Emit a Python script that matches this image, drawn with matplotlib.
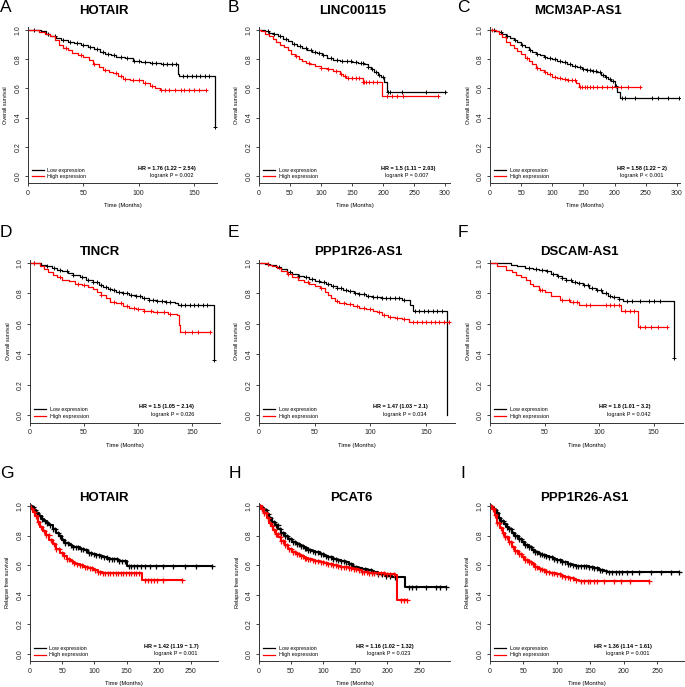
import numpy as np
import matplotlib
matplotlib.use("Agg")
import matplotlib.pyplot as plt

plt.rcParams['font.family'] = ['Liberation Sans', 'DejaVu Sans']

# ---------------- data ----------------
genes = ["HOTAIR", "LINC00115", "MCM3AP-AS1", "TINCR", "PPP1R26-AS1", "DSCAM-AS1",
         "HOTAIR", "PCAT6", "PPP1R26-AS1"]
letters = ["A", "B", "C", "D", "E", "F", "G", "H", "I"]
ylabels = ["Overall survival"] * 6 + ["Relapse free survival"] * 3
hr_text = ["HR = 1.76 (1.22 \u2212 2.54)", "HR = 1.5 (1.11 \u2212 2.03)", "HR = 1.58 (1.22 \u2212 2)",
           "HR = 1.5 (1.05 \u2212 2.14)", "HR = 1.47 (1.03 \u2212 2.1)", "HR = 1.8 (1.01 \u2212 3.2)",
           "HR = 1.42 (1.19 \u2212 1.7)", "HR = 1.16 (1.02 \u2212 1.32)", "HR = 1.36 (1.14 \u2212 1.61)"]
p_text = ["logrank P = 0.002", "logrank P = 0.007", "logrank P < 0.001",
          "logrank P = 0.026", "logrank P = 0.034", "logrank P = 0.042",
          "logrank P = 0.001", "logrank P = 0.023", "logrank P = 0.001"]
x_ticks = [[0, 50, 100, 150], [0, 50, 100, 150, 200, 250, 300], [0, 50, 100, 150, 200, 250, 300],
           [0, 50, 100, 150], [0, 50, 100, 150], [0, 50, 100, 150],
           [0, 50, 100, 150, 200, 250], [0, 50, 100, 150, 200, 250], [0, 50, 100, 150, 200, 250]]
x_max = [171, 308, 305, 176, 176, 177, 292, 298, 290]

# each curve: step times, survival after each step, last follow-up, censor times
a_low_t = [0, 12, 16, 20, 25, 30, 36, 42, 48, 54, 60, 65, 70, 75, 80, 88, 95, 102, 110, 120, 130, 136, 137, 169]
a_low_s = [1.0, 0.99, 0.975, 0.96, 0.945, 0.93, 0.92, 0.91, 0.898, 0.885, 0.87, 0.85, 0.835, 0.825, 0.815,
           0.805, 0.787, 0.78, 0.775, 0.77, 0.767, 0.70, 0.684, 0.336]
a_low_end = 169
a_low_c = [5, 18, 24, 32, 38, 44, 50, 56, 62, 68, 72, 78, 84, 90, 96, 100, 106, 112, 116, 122, 126, 130,
           134, 140, 144, 148, 152, 156, 160, 164, 169]
a_high_t = [0, 10, 15, 20, 24, 28, 32, 36, 40, 45, 50, 55, 59, 64, 68, 73, 77, 81, 86, 92, 98, 104, 110, 115, 119]
a_high_s = [1.0, 0.985, 0.975, 0.96, 0.93, 0.90, 0.875, 0.86, 0.845, 0.83, 0.815, 0.795, 0.765, 0.745, 0.725,
            0.715, 0.705, 0.685, 0.665, 0.66, 0.655, 0.64, 0.615, 0.60, 0.588]
a_high_end = 161
a_high_c = [34, 48, 60, 70, 80, 84, 88, 95, 100, 106, 112, 120, 124, 128, 133, 138, 141, 146, 150, 155, 161]

b_low_t = [0, 10, 16, 22, 30, 38, 46, 54, 62, 70, 78, 86, 94, 101, 110, 120, 130, 140, 150, 160, 170, 175,
           180, 186, 192, 197, 202, 206]
b_low_s = [1.0, 0.99, 0.98, 0.97, 0.955, 0.94, 0.925, 0.905, 0.89, 0.875, 0.86, 0.85, 0.84, 0.828, 0.808,
           0.795, 0.79, 0.785, 0.78, 0.775, 0.77, 0.745, 0.73, 0.71, 0.69, 0.675, 0.645, 0.577]
b_low_end = 301
b_low_c = [14, 24, 34, 44, 56, 66, 76, 84, 90, 96, 104, 116, 126, 134, 142, 148, 156, 164, 168, 176, 182,
           188, 194, 200, 208, 212, 230, 270, 300]
b_high_t = [0, 4, 10, 16, 22, 28, 34, 40, 46, 52, 58, 64, 70, 76, 82, 90, 100, 110, 120, 130, 135, 140, 168, 198]
b_high_s = [1.0, 0.99, 0.975, 0.955, 0.935, 0.915, 0.895, 0.88, 0.86, 0.835, 0.82, 0.80, 0.785, 0.775, 0.765,
            0.755, 0.74, 0.73, 0.72, 0.70, 0.685, 0.67, 0.645, 0.545]
b_high_end = 288
b_high_c = [60, 80, 100, 112, 124, 132, 138, 144, 150, 156, 162, 168, 170, 172, 178, 184, 190, 206, 214,
            222, 232, 288]

c_low_t = [0, 8, 14, 20, 26, 32, 38, 44, 50, 56, 62, 68, 74, 80, 86, 92, 100, 108, 116, 124, 132, 140, 148,
           156, 164, 172, 178, 184, 190, 195, 200, 204, 208]
c_low_s = [1.0, 0.995, 0.985, 0.975, 0.96, 0.945, 0.93, 0.915, 0.9, 0.885, 0.865, 0.85, 0.835, 0.825, 0.815,
           0.805, 0.80, 0.79, 0.78, 0.77, 0.755, 0.745, 0.735, 0.725, 0.72, 0.71, 0.69, 0.675, 0.665, 0.65,
           0.615, 0.577, 0.531]
c_low_end = 303
c_low_c = [6, 18, 28, 40, 52, 64, 76, 88, 96, 104, 112, 120, 128, 136, 144, 150, 156, 160, 166, 170, 176,
           182, 186, 192, 198, 202, 212, 216, 232, 260, 270, 285, 303]
c_high_t = [0, 9, 14, 20, 26, 32, 38, 44, 50, 56, 62, 68, 74, 80, 86, 92, 100, 108, 116, 124, 132, 138, 143]
c_high_s = [1.0, 0.99, 0.975, 0.95, 0.92, 0.895, 0.875, 0.855, 0.835, 0.81, 0.79, 0.765, 0.74, 0.725, 0.715,
            0.70, 0.68, 0.67, 0.665, 0.66, 0.655, 0.64, 0.611]
c_high_end = 240
c_high_c = [3, 60, 76, 88, 96, 104, 112, 120, 126, 132, 136, 144, 148, 152, 156, 160, 166, 172, 180, 188,
            196, 210, 222, 240]

d_low_t = [0, 10, 15, 20, 25, 30, 35, 40, 46, 52, 58, 64, 68, 72, 76, 80, 86, 92, 98, 104, 110, 118, 126,
           134, 137, 170]
d_low_s = [1.0, 0.99, 0.98, 0.965, 0.955, 0.945, 0.935, 0.923, 0.91, 0.89, 0.875, 0.855, 0.84, 0.83, 0.82,
           0.81, 0.80, 0.79, 0.78, 0.77, 0.76, 0.75, 0.745, 0.735, 0.725, 0.363]
d_low_end = 170
d_low_c = [4, 16, 22, 28, 34, 40, 48, 54, 58, 62, 66, 70, 74, 78, 82, 86, 90, 94, 98, 102, 106, 110, 114,
           118, 122, 126, 130, 140, 144, 148, 152, 156, 160, 164, 170]
d_high_t = [0, 9, 13, 17, 21, 25, 30, 36, 42, 48, 54, 58, 62, 66, 70, 74, 80, 86, 92, 98, 106, 114, 122,
            128, 136, 138, 139]
d_high_s = [1.0, 0.98, 0.96, 0.94, 0.92, 0.905, 0.89, 0.88, 0.865, 0.855, 0.84, 0.83, 0.81, 0.79, 0.77,
            0.745, 0.735, 0.72, 0.705, 0.695, 0.685, 0.68, 0.675, 0.665, 0.66, 0.595, 0.549]
d_high_end = 167
d_high_c = [4, 28, 44, 50, 66, 78, 84, 90, 96, 100, 106, 112, 118, 124, 130, 144, 150, 156, 167]

e_low_t = [0, 5, 10, 15, 20, 25, 30, 35, 40, 45, 50, 55, 60, 65, 70, 75, 80, 85, 90, 96, 102, 110, 120,
           128, 134, 136, 138, 169]
e_low_s = [1.0, 0.995, 0.985, 0.975, 0.96, 0.94, 0.925, 0.915, 0.905, 0.895, 0.885, 0.875, 0.865, 0.85,
           0.835, 0.825, 0.815, 0.805, 0.795, 0.785, 0.775, 0.772, 0.768, 0.76, 0.755, 0.725, 0.687, 0.0]
e_low_end = 169
e_low_c = [8, 18, 28, 36, 42, 48, 54, 58, 62, 66, 70, 74, 78, 82, 86, 90, 94, 98, 102, 106, 110, 114, 118,
           122, 126, 130, 140, 144, 148, 152, 156, 160, 164]
e_high_t = [0, 8, 12, 16, 20, 25, 30, 35, 40, 45, 50, 55, 59, 62, 65, 68, 72, 78, 84, 90, 96, 102, 106,
            110, 116, 122, 128, 135]
e_high_s = [1.0, 0.99, 0.98, 0.965, 0.945, 0.925, 0.905, 0.89, 0.875, 0.86, 0.85, 0.835, 0.81, 0.79, 0.77,
            0.75, 0.74, 0.73, 0.72, 0.705, 0.695, 0.685, 0.675, 0.655, 0.645, 0.64, 0.63, 0.61]
e_high_end = 171
e_high_c = [26, 44, 56, 70, 76, 82, 88, 94, 100, 108, 112, 118, 124, 130, 138, 142, 146, 150, 154, 158,
            162, 166, 171]

f_low_t = [0, 19, 25, 32, 39, 45, 51, 56, 61, 66, 70, 75, 80, 85, 91, 97, 103, 108, 112, 118, 122, 169]
f_low_s = [1.0, 0.985, 0.978, 0.97, 0.963, 0.955, 0.945, 0.93, 0.912, 0.9, 0.888, 0.878, 0.868, 0.855,
           0.835, 0.82, 0.802, 0.785, 0.775, 0.765, 0.752, 0.374]
f_low_end = 169
f_low_c = [36, 42, 48, 52, 58, 62, 66, 70, 74, 78, 82, 86, 90, 94, 98, 102, 106, 110, 114, 118, 126, 130,
           138, 146, 150, 156, 169]
f_high_t = [0, 6, 15, 20, 24, 28, 33, 37, 39, 45, 50, 56, 64, 73, 82, 120, 136]
f_high_s = [1.0, 0.978, 0.956, 0.94, 0.923, 0.905, 0.89, 0.86, 0.846, 0.824, 0.81, 0.78, 0.758, 0.741,
            0.721, 0.686, 0.582]
f_high_end = 162
f_high_c = [46, 48, 66, 72, 76, 80, 88, 92, 106, 110, 114, 118, 124, 128, 132, 138, 142, 148, 154, 162]

g_low_t = [0, 3, 6, 10, 14, 18, 22, 26, 30, 35, 40, 45, 50, 55, 60, 66, 72, 78, 84, 90, 96, 102, 108, 114,
           120, 128, 136, 144, 150]
g_low_s = [1.0, 0.99, 0.975, 0.955, 0.935, 0.915, 0.9, 0.885, 0.87, 0.845, 0.82, 0.795, 0.77, 0.75, 0.735,
           0.725, 0.72, 0.71, 0.70, 0.685, 0.675, 0.67, 0.665, 0.655, 0.645, 0.64, 0.63, 0.625, 0.596]
g_low_end = 283
g_low_c = [2, 5, 8, 11, 15, 19, 23, 27, 31, 35, 39, 43, 47, 51, 55, 59, 63, 67, 71, 75, 79, 83, 87, 91, 95,
           99, 103, 107, 111, 115, 119, 123, 127, 131, 135, 139, 143, 148, 153, 157, 161, 166, 172, 178,
           186, 195, 207, 222, 240, 258, 283]
g_high_t = [0, 2, 5, 8, 12, 16, 20, 25, 30, 35, 41, 47, 53, 57, 62, 67, 72, 77, 83, 90, 98, 105, 112, 119, 174]
g_high_s = [1.0, 0.982, 0.96, 0.93, 0.892, 0.86, 0.83, 0.802, 0.77, 0.74, 0.712, 0.685, 0.66, 0.645, 0.63,
            0.618, 0.608, 0.60, 0.59, 0.578, 0.566, 0.557, 0.55, 0.544, 0.499]
g_high_end = 236
g_high_c = [3, 6, 9, 13, 17, 21, 25, 29, 33, 37, 41, 45, 49, 53, 57, 61, 65, 69, 73, 77, 81, 85, 89, 93,
            97, 101, 105, 109, 113, 117, 121, 125, 129, 133, 137, 141, 145, 149, 153, 157, 161, 165, 169,
            178, 183, 188, 193, 198, 206, 236]

h_low_t = [0, 4, 8, 12, 16, 20, 25, 30, 35, 40, 46, 52, 58, 64, 70, 76, 82, 88, 95, 102, 108, 115, 122,
           128, 134, 140, 147, 154, 160, 168, 176, 186, 196, 207, 228]
h_low_s = [1.0, 0.989, 0.97, 0.945, 0.92, 0.895, 0.87, 0.843, 0.82, 0.8, 0.776, 0.758, 0.742, 0.728, 0.715,
           0.705, 0.695, 0.687, 0.676, 0.665, 0.653, 0.643, 0.632, 0.625, 0.62, 0.605, 0.59, 0.58, 0.575,
           0.565, 0.555, 0.541, 0.53, 0.519, 0.452]
h_low_end = 291
h_low_c = [2, 5, 8, 11, 14, 17, 20, 23, 26, 29, 32, 35, 38, 41, 44, 47, 50, 53, 56, 59, 62, 65, 68, 71, 74,
           77, 80, 84, 88, 92, 96, 100, 104, 108, 112, 116, 120, 124, 128, 132, 136, 140, 144, 148, 152,
           156, 160, 165, 170, 175, 180, 186, 192, 198, 204, 212, 234, 238, 245, 260, 276, 282, 291]
h_high_t = [0, 4, 8, 12, 15, 18, 22, 26, 30, 35, 40, 46, 52, 58, 64, 70, 76, 82, 88, 95, 102, 108, 115,
            122, 128, 134, 140, 147, 154, 160, 170, 180, 197, 212, 216]
h_high_s = [1.0, 0.98, 0.955, 0.92, 0.888, 0.865, 0.835, 0.81, 0.787, 0.76, 0.735, 0.709, 0.69, 0.675,
            0.66, 0.65, 0.643, 0.636, 0.631, 0.622, 0.615, 0.608, 0.602, 0.596, 0.59, 0.586, 0.58, 0.572,
            0.565, 0.553, 0.548, 0.545, 0.541, 0.537, 0.362]
h_high_end = 231
h_high_c = [2, 5, 8, 11, 14, 17, 20, 23, 26, 29, 32, 35, 38, 41, 44, 47, 50, 53, 56, 59, 62, 65, 68, 71,
            74, 77, 80, 84, 88, 92, 96, 100, 104, 108, 112, 116, 120, 124, 128, 132, 136, 140, 144, 148,
            152, 156, 160, 164, 168, 172, 176, 180, 185, 190, 195, 200, 205, 210, 221, 226, 231]

i_low_t = [0, 3, 6, 10, 13, 17, 21, 25, 28, 33, 38, 43, 48, 53, 58, 63, 68, 73, 78, 83, 88, 94, 100, 108,
           116, 122, 128, 138, 148, 156, 163, 170, 175]
i_low_s = [1.0, 0.989, 0.975, 0.95, 0.922, 0.9, 0.878, 0.858, 0.843, 0.82, 0.795, 0.775, 0.754, 0.735,
           0.72, 0.705, 0.687, 0.678, 0.67, 0.66, 0.653, 0.645, 0.635, 0.62, 0.61, 0.603, 0.597, 0.592,
           0.586, 0.578, 0.57, 0.56, 0.553]
i_low_end = 282
i_low_c = [2, 5, 8, 11, 14, 17, 20, 23, 26, 29, 32, 35, 38, 41, 44, 47, 50, 53, 56, 59, 62, 65, 68, 71, 74,
           77, 80, 84, 88, 92, 96, 100, 104, 108, 112, 116, 120, 124, 128, 132, 136, 140, 144, 148, 152,
           156, 160, 164, 168, 173, 178, 183, 188, 193, 198, 205, 212, 222, 240, 256, 270, 282]
i_high_t = [0, 3, 7, 11, 15, 19, 23, 28, 33, 38, 43, 48, 53, 58, 63, 68, 73, 78, 84, 90, 98, 106, 112,
            118, 125, 133]
i_high_s = [1.0, 0.98, 0.94, 0.888, 0.85, 0.815, 0.787, 0.755, 0.725, 0.698, 0.675, 0.655, 0.637, 0.62,
            0.605, 0.59, 0.575, 0.565, 0.555, 0.548, 0.541, 0.53, 0.522, 0.512, 0.503, 0.49]
i_high_end = 238
i_high_c = [2, 5, 8, 11, 14, 17, 20, 23, 26, 29, 32, 35, 38, 41, 44, 47, 50, 53, 56, 59, 62, 65, 68, 71,
            74, 77, 80, 84, 88, 92, 96, 100, 104, 108, 112, 116, 120, 124, 128, 136, 140, 146, 150, 156,
            160, 170, 185, 196, 210, 238]

low_curves = [(a_low_t, a_low_s, a_low_end, a_low_c), (b_low_t, b_low_s, b_low_end, b_low_c),
              (c_low_t, c_low_s, c_low_end, c_low_c), (d_low_t, d_low_s, d_low_end, d_low_c),
              (e_low_t, e_low_s, e_low_end, e_low_c), (f_low_t, f_low_s, f_low_end, f_low_c),
              (g_low_t, g_low_s, g_low_end, g_low_c), (h_low_t, h_low_s, h_low_end, h_low_c),
              (i_low_t, i_low_s, i_low_end, i_low_c)]
high_curves = [(a_high_t, a_high_s, a_high_end, a_high_c), (b_high_t, b_high_s, b_high_end, b_high_c),
               (c_high_t, c_high_s, c_high_end, c_high_c), (d_high_t, d_high_s, d_high_end, d_high_c),
               (e_high_t, e_high_s, e_high_end, e_high_c), (f_high_t, f_high_s, f_high_end, f_high_c),
               (g_high_t, g_high_s, g_high_end, g_high_c), (h_high_t, h_high_s, h_high_end, h_high_c),
               (i_high_t, i_high_s, i_high_end, i_high_c)]

# ---------------- layout (pixels in a 685x687 canvas) ----------------
W, H = 685, 687
ax_left = [28, 259, 490, 30, 259, 490, 30, 259, 490]
ax_right = [217, 450, 680, 220, 455, 683, 218, 450, 684]
row_top = [27, 260, 503]
row_bot = [183.3, 422.6, 661.4]
title_xy = [(104, 11), (353, 11), (578, 11), (100, 252), (358, 252), (579, 252),
            (104, 498), (351, 498), (584, 498)]
letter_xy = [(0, 7), (228, 7), (457, 7), (0, 232), (228, 232), (458, 232), (0, 474), (229, 474), (460, 474)]
hr_pos = [(0.735, 0.76), (0.78, 0.775), (0.80, 0.80), (0.72, 0.75), (0.72, 0.745), (0.70, 0.72),
          (0.75, 0.775), (0.66, 0.68), (0.685, 0.71)]


def km_curve(ax, t, s, end, cens, color, lw, ms, mew):
    xs = list(t) + [end]
    ys = list(s) + [s[-1]]
    line, = ax.step(xs, ys, where='post', color=color, lw=lw)
    idx = np.searchsorted(t, cens, side='right') - 1
    ax.plot(cens, np.asarray(s)[idx], ls='none', marker='+', color=color, ms=ms, mew=mew)
    return line


fig = plt.figure(figsize=(W / 100, H / 100), dpi=100)

for k in range(9):
    r = k // 3
    left, right = ax_left[k], ax_right[k]
    top, bot = row_top[r], row_bot[r]
    ax = fig.add_axes([left / W, 1 - bot / H, (right - left) / W, (bot - top) / H])
    wpx, hpx = right - left, bot - top

    dense = k >= 6
    lw = 1.5 if dense else 0.9
    ms = 3.6 if dense else 3.4
    mew = 0.9 if dense else 0.7
    l1 = km_curve(ax, *low_curves[k], color='black', lw=lw, ms=ms, mew=mew)
    l2 = km_curve(ax, *high_curves[k], color='#ff0000', lw=lw, ms=ms, mew=mew)

    ax.set_xlim(0, x_max[k])
    ax.set_ylim(-0.05, 1.02)
    ax.set_xticks(x_ticks[k])
    ax.set_yticks([0.0, 0.2, 0.4, 0.6, 0.8, 1.0])
    ax.set_yticklabels(["0.0", "0.2", "0.4", "0.6", "0.8", "1.0"])
    for side in ['top', 'right']:
        ax.spines[side].set_visible(False)
    for side in ['left', 'bottom']:
        ax.spines[side].set_linewidth(0.7)
        ax.spines[side].set_color('#333333')
    ax.tick_params(length=2.5, width=0.6, pad=2, labelsize=5, colors='#222222')
    ax.tick_params(axis='y', labelrotation=90)
    for lab in ax.get_yticklabels():
        lab.set_va('center')

    ax.set_xlabel("Time (Months)", fontsize=4.2)
    ax.xaxis.set_label_coords(0.5, -20 / hpx)
    ax.set_ylabel(ylabels[k], fontsize=4.0)
    ax.yaxis.set_label_coords(-19.5 / wpx, 0.5)

    leg = ax.legend([l1, l2], ["Low expression", "High expression"], loc='lower left',
                    bbox_to_anchor=(0.02, 0.025), frameon=False, fontsize=3.9, handlelength=2.2,
                    handletextpad=0.7, labelspacing=0.3, borderaxespad=0, borderpad=0)
    for h in leg.get_lines():
        h.set_linewidth(0.9)
    ax.text(hr_pos[k][0], 0.097, hr_text[k], transform=ax.transAxes, ha='center', va='center',
            fontsize=4.0, fontweight='bold')
    ax.text(hr_pos[k][1], 0.052, p_text[k], transform=ax.transAxes, ha='center', va='center',
            fontsize=4.0)

    tx, ty = title_xy[k]
    fig.text(tx / W, 1 - ty / H, genes[k], ha='center', va='center', fontsize=9.5, fontweight='bold')
    lx, ly = letter_xy[k]
    fig.text(lx / W, 1 - ly / H, letters[k], ha='left', va='center', fontsize=12.5)

fig.savefig("out.png", dpi=100)
